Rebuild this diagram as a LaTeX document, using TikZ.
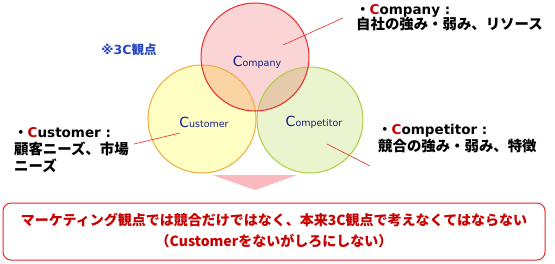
\documentclass[tikz,border=0pt]{standalone}
\usepackage{fontspec}
\setmainfont{DejaVu Sans}
\newfontfamily\jpfont{Noto Sans CJK JP}
\usepackage{xcolor}
\usepackage{tikz}
\usetikzlibrary{calc,positioning}
\definecolor{rojoLine}{RGB}{230,40,40}
\definecolor{rojoBg}{RGB}{251,212,214}
\definecolor{naranjaLine}{RGB}{240,170,60}
\definecolor{amarilloBg}{RGB}{255,255,196}
\definecolor{verdeLine}{RGB}{175,205,60}
\definecolor{verdeBg}{RGB}{234,244,206}
\definecolor{azulTxt}{RGB}{20,30,140}
\definecolor{azulNota}{RGB}{40,70,190}
\definecolor{rojoTxt}{RGB}{200,0,0}
\definecolor{rosaTri}{RGB}{250,185,190}
\newcommand{\bigC}{{\fontsize{14}{14}\selectfont\color{azulTxt}C}}
\newcommand{\redC}{{\color{rojoTxt}C}}
\newcommand{\dotpt}{{\jpfont ・}}
\newcommand{\jptxt}[1]{{\jpfont\fontsize{14.4}{17}\selectfont #1}}

\begin{document}
\begin{tikzpicture}[x=1pt,y=-1pt,
    circtxt/.style={font=\fontsize{9.5}{10}\selectfont, text=azulTxt},
    lbl/.style={font=\fontsize{13.5}{17}\selectfont\bfseries, align=left, anchor=north west, inner sep=0pt},
    pointer/.style={rojoLine, line width=0.6pt}]
  \useasboundingbox (0,0) rectangle (555,263);
  % Arrow under the circles
  \fill[rosaTri] (212,175) -- (297,175) -- (255,190) -- cycle;
  % Circle fills (multiply so that overlaps mix)
  \begin{scope}[blend group=multiply]
    \fill[amarilloBg] (202,119) circle[radius=54];
    \fill[verdeBg] (310,120) circle[radius=53];
    \fill[rojoBg] (255,57) circle[radius=54];
  \end{scope}
  \draw[verdeLine, line width=1pt] (310,120) circle[radius=53];
  \draw[naranjaLine, line width=1pt] (202,119) circle[radius=54];
  \draw[rojoLine, line width=1pt] (255,57) circle[radius=54];
  % Names inside the circles
  \node[circtxt] (company) at (257,62) {\bigC ompany};
  \node[circtxt] (customer) at (204,122) {\bigC ustomer};
  \node[circtxt] (competitor) at (314,122) {\bigC ompetitor};
  \node[font=\fontsize{12.5}{13}\selectfont\bfseries, text=azulNota] (nota) at (129,50)
    {※3C{\jpfont 観点}};
  % Labels
  \node[lbl] (companyLbl) at (356,4)
    {\dotpt\redC ompany :\\[-2pt]\jptxt{自社の強み・弱み、リソース}};
  \node[lbl] (customerLbl) at (14,127)
    {\dotpt\redC ustomer :\\\jptxt{顧客ニーズ、市場}\\\jptxt{ニーズ}};
  \node[lbl] (competitorLbl) at (378,124)
    {\dotpt\redC ompetitor :\\\jptxt{競合の強み・弱み、特徴}};
  % Pointer lines
  \coordinate (pCompany) at (283,45);
  \coordinate (eCompany) at (343,18);
  \coordinate (pCustomer) at (180,133);
  \coordinate (eCustomer) at (134,144);
  \coordinate (pCompetitor) at (327,144);
  \coordinate (eCompetitor) at (370,166);
  \draw[pointer] (pCompany) -- (eCompany);
  \draw[pointer] (pCustomer) -- (eCustomer);
  \draw[pointer] (pCompetitor) -- (eCompetitor);
  % Bottom box
  \draw[rojoLine, line width=1pt, rounded corners=8pt] (3,203) rectangle (545,260);
  \node[font=\jpfont\fontsize{14}{21}\selectfont\bfseries, text=rojoTxt, align=center] (msg) at (274,231)
    {マーケティング観点では競合だけではなく、本来3C観点で考えなくてはならない\\（Customerをないがしろにしない）};
\end{tikzpicture}
\end{document}
